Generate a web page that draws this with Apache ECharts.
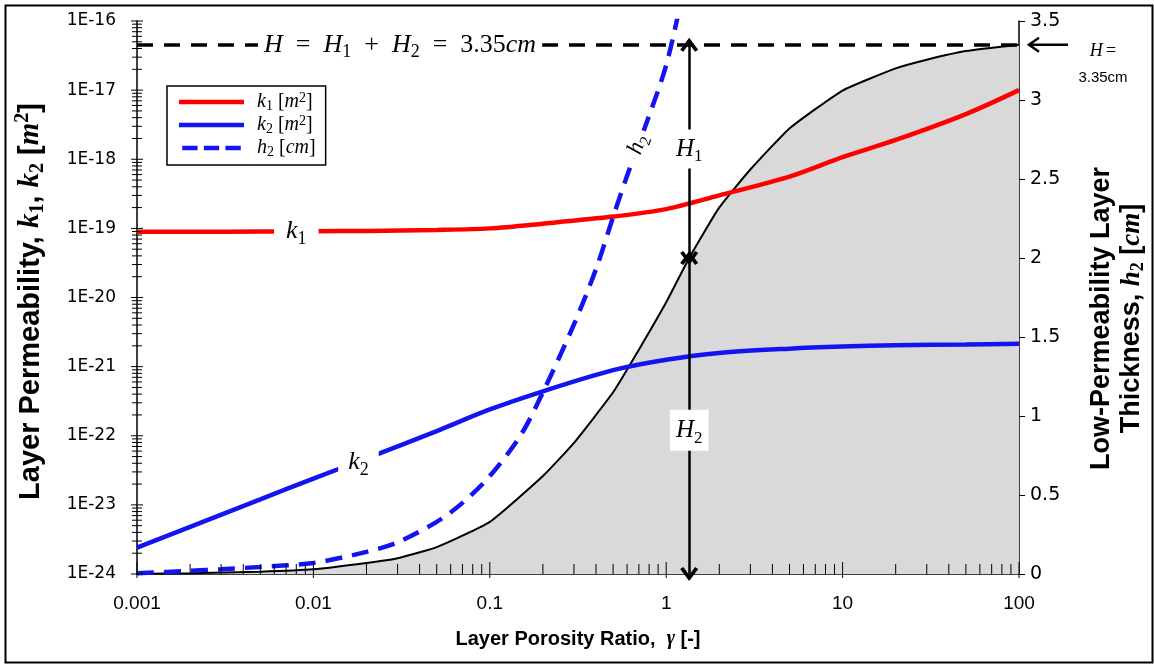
<!DOCTYPE html>
<html>
<head>
<meta charset="utf-8">
<script src="https://cdn.jsdelivr.net/npm/echarts@6/dist/echarts.min.js"></script>
<style>
html,body{margin:0;padding:0;background:#fff;}
#chart{width:1154px;height:664px;}
</style>
</head>
<body>
<div id="chart"></div>
<script>
// ---------------- data ----------------
const xTickLabels = ['0.001', '0.01', '0.1', '1', '10', '100'];
const leftTickLabels = ['1E-24', '1E-23', '1E-22', '1E-21', '1E-20', '1E-19', '1E-18', '1E-17', '1E-16'];
const rightTickLabels = ['0', '0.5', '1', '1.5', '2', '2.5', '3', '3.5'];

// layer permeabilities [m^2]
const gammaK = [0.001, 0.002, 0.005, 0.01, 0.02, 0.05, 0.1, 0.2, 0.5, 1, 2, 5, 10, 20, 50, 100];
const k1Values = [8.9e-20, 8.9e-20, 9.0e-20, 9.1e-20, 9.2e-20, 9.5e-20, 1.0e-19, 1.17e-19, 1.48e-19, 1.9e-19, 3.0e-19, 5.6e-19, 1.07e-18, 1.9e-18, 4.5e-18, 1.0e-17];
const k2Values = [2.4e-24, 4.8e-24, 1.2e-23, 2.4e-23, 4.7e-23, 1.17e-22, 2.4e-22, 4.4e-22, 8.9e-22, 1.26e-21, 1.58e-21, 1.82e-21, 1.95e-21, 2.04e-21, 2.09e-21, 2.14e-21];

// shaded curve (thickness partition) [cm]
const gammaH = [0.001, 0.002, 0.005, 0.01, 0.02, 0.03, 0.05, 0.1, 0.2, 0.3, 0.5, 0.7, 1, 1.35, 2, 3, 5, 10, 20, 30, 50, 100];
const layerH2Values = [0, 0.005, 0.015, 0.03, 0.07, 0.1, 0.17, 0.33, 0.62, 0.83, 1.15, 1.42, 1.72, 2.0, 2.32, 2.56, 2.82, 3.06, 3.2, 3.255, 3.31, 3.35];

// low-permeability layer thickness h2 [cm]
const gammaD = [0.001, 0.002, 0.003, 0.005, 0.01, 0.02, 0.03, 0.05, 0.07, 0.1, 0.15, 0.2, 0.3, 0.4, 0.5, 0.6, 0.8, 1, 1.2];
const h2Values = [0.005, 0.02, 0.03, 0.045, 0.07, 0.14, 0.2, 0.33, 0.45, 0.62, 0.88, 1.15, 1.58, 1.93, 2.26, 2.52, 2.9, 3.22, 3.6];

const totalH = 3.35;        // H = H1 + H2
const gammaArrow = 1.35;    // position of the H1/H2 arrows
const h2AtArrow = 2.0;

// the log axis works internally in units of 1e-20 m^2 (ECharts rounds ticks below 1e-20 to 0)
const K_UNIT = 1e-20;
const kScaled = v => v / K_UNIT;

// ---------------- helpers ----------------
const SERIF = '"Liberation Serif", "DejaVu Serif", serif';
const SANS = '"Liberation Sans", Arial, sans-serif';
const DSANS = '"DejaVu Sans", Verdana, sans-serif';
function mathRich(fs, bold, lhFactor) {
  const w = bold ? 'bold' : 'normal';
  const lh = Math.round(fs * (lhFactor || 1.3)), sfs = Math.round(fs * 0.68);
  return {
    i: {fontFamily: SERIF, fontStyle: 'italic', fontWeight: w, fontSize: fs, lineHeight: lh, color: '#000'},
    n: {fontFamily: SERIF, fontWeight: w, fontSize: fs, lineHeight: lh, color: '#000'},
    b: {fontFamily: SANS, fontWeight: 'bold', fontSize: fs, lineHeight: lh, color: '#000'},
    sub: {fontFamily: SERIF, fontWeight: w, fontSize: sfs, lineHeight: sfs, verticalAlign: 'bottom', color: '#000'},
    sup: {fontFamily: SERIF, fontWeight: w, fontSize: sfs, lineHeight: sfs, verticalAlign: 'top', color: '#000'}
  };
}
function zip(xs, ys) { return xs.map((x, i) => [x, ys[i]]); }

const xDecades = xTickLabels.map(Number);
const xTicks = [];
xDecades.forEach((d, i) => {
  xTicks.push([d, 0, 1]);
  if (i < xDecades.length - 1) for (let m = 2; m <= 9; m++) xTicks.push([d * m, 0, 0]);
});
const leftDecades = leftTickLabels.map(s => kScaled(Number(s)));
const leftTicks = [];
leftDecades.forEach((d, i) => {
  leftTicks.push([0.001, d, 1]);
  if (i < leftDecades.length - 1) for (let m = 2; m <= 9; m++) leftTicks.push([0.001, d * m, 0]);
});

const labelBox = (fs) => ({show: true, position: 'inside', backgroundColor: '#fff', padding: [1, 3], rich: mathRich(fs, false)});
const chevron = 'path://M7,0 L14,10 L11.6,11.6 L7,5 L2.4,11.6 L0,10 Z';
const dashIcon = 'path://M0,0h17v5h-17z M24,0h17v5h-17z M48,0h17v5h-17z';

const legendRich = mathRich(20, false, 1.1);

const chart = echarts.init(document.getElementById('chart'), null, {renderer: 'canvas'});
const option = {
  animation: false,
  backgroundColor: '#fff',
  grid: {left: 137, right: 135, top: 21, bottom: 90, containLabel: false, outerBoundsMode: 'none'},
  legend: {
    data: [{name: 'k1', icon: 'rect'}, {name: 'k2', icon: 'rect'}, {name: 'h2', icon: dashIcon}],
    orient: 'vertical',
    left: 167, top: 86,
    backgroundColor: '#fff',
    borderColor: '#000', borderWidth: 1.5, borderRadius: 0,
    padding: [5, 10, 6, 12],
    itemWidth: 65, itemHeight: 4.5, itemGap: 1,
    textStyle: {fontFamily: SERIF, fontSize: 20, lineHeight: 22, rich: legendRich, padding: [0, 0, 0, 8]},
    formatter: function (name) {
      if (name === 'k1') return '{i|k}{sub|1} {n|[}{i|m}{sup|2}{n|]}';
      if (name === 'k2') return '{i|k}{sub|2} {n|[}{i|m}{sup|2}{n|]}';
      return '{i|h}{sub|2} {n|[}{i|cm}{n|]}';
    }
  },
  xAxis: {
    type: 'log', logBase: 10, min: 0.001, max: 100,
    axisLine: {lineStyle: {color: '#000', width: 1.5}},
    axisTick: {show: false},
    splitLine: {show: false},
    axisLabel: {
      margin: 20, color: '#000', fontFamily: SANS, fontSize: 19,
      formatter: v => xTickLabels[Math.round(Math.log10(v)) + 3]
    },
    name: '{b|Layer Porosity Ratio,  }{i|γ}{b| [-]}',
    nameLocation: 'middle', nameGap: 52,
    nameTextStyle: {rich: mathRich(20, true)}
  },
  yAxis: [
    {
      type: 'log', logBase: 10, min: leftDecades[0], max: leftDecades[leftDecades.length - 1], position: 'left',
      axisLine: {show: true, lineStyle: {color: '#000', width: 1.5}},
      axisTick: {show: false},
      splitLine: {show: false},
      axisLabel: {
        margin: 21, color: '#000', fontFamily: DSANS, fontSize: 17,
        formatter: v => leftTickLabels[Math.round(Math.log10(v)) + 4]
      },
      name: '{b|Layer Permeability, }{i|k}{sub|1}{b|, }{i|k}{sub|2}{b| [}{i|m}{sup|2}{b|]}',
      nameLocation: 'middle', nameGap: 89, nameRotate: 90,
      nameTextStyle: {rich: mathRich(29, true, 1.2), padding: [0, 8, 0, 0]}
    },
    {
      type: 'value', min: 0, max: 3.5, interval: 0.5, position: 'right',
      axisLine: {show: true, lineStyle: {color: '#000', width: 1.5}},
      axisTick: {show: true, inside: false, length: 6, lineStyle: {color: '#000'}},
      splitLine: {show: false},
      axisLabel: {
        margin: 11, color: '#000', fontFamily: DSANS, fontSize: 19,
        formatter: v => rightTickLabels[Math.round(v * 2)]
      },
      name: '{b|Low-Permeability Layer}\n{b|Thickness, }{i|h}{sub|2}{b| [}{i|cm}{b|]}',
      nameLocation: 'middle', nameGap: 68, nameRotate: 90,
      nameTextStyle: {rich: mathRich(27, true, 1.12), padding: [0, 42, 0, 0]}
    }
  ],
  series: [
    {
      name: 'H2', type: 'line', xAxisIndex: 0, yAxisIndex: 1,
      data: zip(gammaH, layerH2Values), showSymbol: false, symbol: 'none', smooth: 0.15,
      lineStyle: {color: '#000', width: 2}, itemStyle: {color: '#000'},
      areaStyle: {color: '#d9d9d9', opacity: 1, origin: 'start'},
      z: 1,
      markLine: {
        silent: true, symbol: ['none', 'none'], label: {show: false},
        lineStyle: {color: '#000', width: 3.5, type: [16, 11]},
        data: [[{coord: [0.001, totalH]}, {coord: [100, totalH]}]]
      }
    },
    {
      name: 'k1', type: 'line', xAxisIndex: 0, yAxisIndex: 0,
      data: zip(gammaK, k1Values.map(kScaled)), showSymbol: false, symbol: 'none', smooth: 0.3,
      lineStyle: {color: '#ff0000', width: 4.5}, itemStyle: {color: '#ff0000'}, z: 3,
      markPoint: {
        symbol: 'circle', symbolSize: 1, itemStyle: {color: 'rgba(0,0,0,0)'},
        label: labelBox(26),
        data: [{coord: [0.008, kScaled(9.05e-20)], label: {formatter: '{i|k}{sub|1}', padding: [0, 12]}}]
      }
    },
    {
      name: 'k2', type: 'line', xAxisIndex: 0, yAxisIndex: 0,
      data: zip(gammaK, k2Values.map(kScaled)), showSymbol: false, symbol: 'none', smooth: 0.3,
      lineStyle: {color: '#1414f0', width: 4.5}, itemStyle: {color: '#1414f0'}, z: 3,
      markPoint: {
        symbol: 'circle', symbolSize: 1, itemStyle: {color: 'rgba(0,0,0,0)'},
        label: labelBox(26),
        data: [{coord: [0.018, kScaled(4.1e-23)], label: {formatter: '{i|k}{sub|2}', padding: [0, 10]}}]
      }
    },
    {
      name: 'h2', type: 'line', xAxisIndex: 0, yAxisIndex: 1,
      data: zip(gammaD, h2Values), showSymbol: false, symbol: 'none', smooth: 0.3,
      lineStyle: {color: '#1414f0', width: 4.5, type: [17, 10]}, itemStyle: {color: '#1414f0'}, z: 4,
      markLine: {
        silent: true, symbol: [chevron, chevron], symbolSize: [18, 14], label: {show: false},
        lineStyle: {color: '#000', width: 2.5, type: 'solid'},
        data: [
          [{coord: [gammaArrow, totalH]}, {coord: [gammaArrow, h2AtArrow]}],
          [{coord: [gammaArrow, h2AtArrow]}, {coord: [gammaArrow, 0]}]
        ]
      },
      markPoint: {
        symbol: 'circle', symbolSize: 1, itemStyle: {color: 'rgba(0,0,0,0)'},
        label: labelBox(25),
        data: [
          {coord: [0.69, 2.72], label: {formatter: '{i|h}{sub|2}', rotate: 71, padding: [0, 5], rich: mathRich(23, false)}},
          {coord: [gammaArrow, 2.69], label: {formatter: '{i|H}{sub|1}', padding: [3, 2]}},
          {coord: [gammaArrow, 0.91], label: {formatter: '{i|H}{sub|2}', padding: [4, 6]}},
          {coord: [0.031, totalH], label: {formatter: '{i|H}{n|  =  }{i|H}{sub|1}{n|  +  }{i|H}{sub|2}{n|  =  3.35}{i|cm}', padding: [0, 6], rich: mathRich(26, false)}}
        ]
      }
    },
    {
      name: 'xticks', type: 'custom', xAxisIndex: 0, yAxisIndex: 1, z: 10, silent: true,
      data: xTicks,
      renderItem: function (params, api) {
        const p = api.coord([api.value(0), api.value(1)]);
        const major = api.value(2) === 1;
        return {type: 'line', shape: {x1: p[0], y1: p[1] + (major ? 4 : 0), x2: p[0], y2: p[1] - (major ? 12 : 10)},
          style: {stroke: '#000', lineWidth: 1}};
      }
    },
    {
      name: 'yticks', type: 'custom', xAxisIndex: 0, yAxisIndex: 0, z: 10, silent: true,
      data: leftTicks,
      renderItem: function (params, api) {
        const p = api.coord([api.value(0), api.value(1)]);
        const major = api.value(2) === 1;
        const h = major ? 6 : 5;
        return {type: 'line', shape: {x1: p[0] - h, y1: p[1], x2: p[0] + h, y2: p[1]},
          style: {stroke: '#000', lineWidth: 1}};
      }
    }
  ]
};
chart.setOption(option);

// annotation outside the plot, anchored to the data point (100, H) through the axis scales
const pH = chart.convertToPixel({xAxisIndex: 0, yAxisIndex: 1}, [100, totalH]);
chart.setOption({
  graphic: [
    {type: 'rect', left: 3, top: 3, shape: {width: 1147, height: 657}, style: {fill: 'none', stroke: '#000', lineWidth: 2}, z: 100},
    {type: 'line', shape: {x1: pH[0] + 10, y1: pH[1], x2: pH[0] + 49, y2: pH[1]}, style: {stroke: '#000', lineWidth: 2.5}, z: 100},
    {type: 'polyline', shape: {points: [[pH[0] + 20, pH[1] - 7], [pH[0] + 10, pH[1]], [pH[0] + 20, pH[1] + 7]]}, style: {stroke: '#000', lineWidth: 2.5, fill: 'none'}, z: 100},
    {type: 'text', x: pH[0] + 84, y: pH[1] + 7, style: {text: '{i|H} {n|=}', rich: mathRich(18, false), align: 'center', verticalAlign: 'middle'}, z: 100},
    {type: 'text', x: pH[0] + 84, y: pH[1] + 33, style: {text: '3.35cm', fontFamily: SANS, fontSize: 15, fill: '#000', align: 'center', verticalAlign: 'middle'}, z: 100}
  ]
});
</script>
</body>
</html>
